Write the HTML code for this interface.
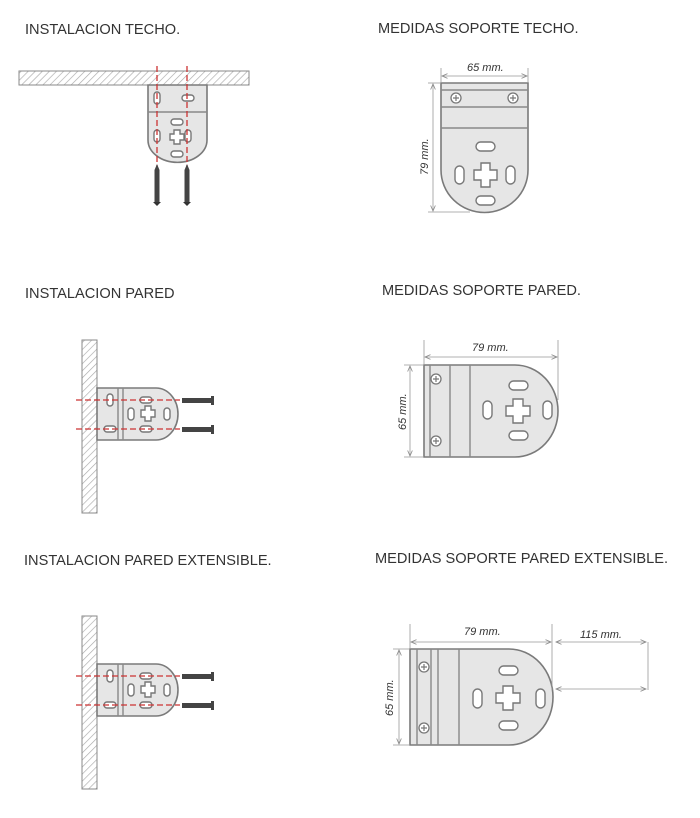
<!DOCTYPE html>
<html><head><meta charset="utf-8"><style>
html,body{margin:0;padding:0;background:#fff}
svg{display:block}
text{font-family:"Liberation Sans",sans-serif}
.t{font-size:14.6px;fill:#333}
.d{font-size:11px;fill:#333;font-style:italic}
.b{fill:#e6e6e6;stroke:#7a7a7a;stroke-width:1.6}
.h{fill:#fff;stroke:#777;stroke-width:1.4}
.l{stroke:#888;stroke-width:1.4;fill:none}
.dm{stroke:#999;stroke-width:0.8;fill:none}
.r{stroke:#c33;stroke-width:1.3;stroke-dasharray:6 3;fill:none}
</style></head><body>
<svg width="700" height="818" viewBox="0 0 700 818">
<defs>
<pattern id="hp" width="5" height="5" patternUnits="userSpaceOnUse" patternTransform="rotate(45)">
<rect width="5" height="5" fill="#fff"/><line x1="0" y1="0" x2="0" y2="5" stroke="#aaa" stroke-width="1.3"/>
</pattern>
<marker id="a" markerWidth="8" markerHeight="8" refX="7" refY="4" orient="auto-start-reverse"><path d="M0,1 L7,4 L0,7" fill="none" stroke="#888" stroke-width="1"/></marker>
<g id="scr"><circle r="5" fill="#fff" stroke="#777" stroke-width="1.3"/><path d="M-3,0H3M0,-3V3" stroke="#777" stroke-width="1.2"/></g>
<g id="screwV"><rect x="-2.5" y="0" width="5" height="32" fill="#444"/><path d="M-4,32H4L0,36Z" fill="#333"/><path d="M-2.5,0L0,-6L2.5,0" fill="#444"/></g>
</defs>

<text class="t" x="25" y="34">INSTALACION TECHO.</text>
<text class="t" x="378" y="33">MEDIDAS SOPORTE TECHO.</text>
<text class="t" x="25" y="298">INSTALACION PARED</text>
<text class="t" x="382" y="295">MEDIDAS SOPORTE PARED.</text>
<text class="t" x="24" y="565">INSTALACION PARED EXTENSIBLE.</text>
<text class="t" x="375" y="563">MEDIDAS SOPORTE PARED EXTENSIBLE.</text>

<!-- Instalacion techo -->
<rect x="19" y="71" width="230" height="14" fill="url(#hp)" stroke="#888"/>
<path class="b" d="M148,85H207V140A29,22 0 0 1 148,140Z"/>
<line class="l" x1="148" y1="112" x2="207" y2="112"/>
<rect class="h" x="154" y="92" width="6" height="12" rx="3"/>
<rect class="h" x="182" y="95" width="12" height="6" rx="3"/>
<rect class="h" x="171" y="119" width="12" height="6" rx="3"/>
<rect class="h" x="171" y="151" width="12" height="6" rx="3"/>
<rect class="h" x="154" y="130" width="6" height="12" rx="3"/>
<rect class="h" x="185" y="130" width="6" height="12" rx="3"/>
<path class="h" d="M174,130h6v4h4v6h-4v4h-6v-4h-4v-6h4z"/>
<line class="r" x1="157" y1="66" x2="157" y2="166"/>
<line class="r" x1="187" y1="66" x2="187" y2="166"/>
<use href="#screwV" x="157" y="170"/>
<use href="#screwV" x="187" y="170"/>

<!-- Medidas techo -->
<path class="b" d="M441,83H528V170A43,42 0 0 1 441,170Z"/>
<line class="l" x1="441" y1="90" x2="528" y2="90"/>
<line class="l" x1="441" y1="107" x2="528" y2="107"/>
<line class="l" x1="441" y1="128" x2="528" y2="128"/>
<use href="#scr" x="456" y="98"/><use href="#scr" x="513" y="98"/>
<rect class="h" x="476" y="142" width="19" height="9" rx="4.5"/>
<rect class="h" x="476" y="196" width="19" height="9" rx="4.5"/>
<rect class="h" x="455" y="166" width="9" height="18" rx="4.5"/>
<rect class="h" x="506" y="166" width="9" height="18" rx="4.5"/>
<path class="h" d="M481,163h9v7h7v10h-7v7h-9v-7h-7v-10h7z"/>
<line class="dm" x1="441" y1="68" x2="441" y2="83"/><line class="dm" x1="528" y1="68" x2="528" y2="83"/>
<line class="dm" x1="442" y1="76" x2="527" y2="76" marker-start="url(#a)" marker-end="url(#a)"/>
<text class="d" x="467" y="71">65 mm.</text>
<line class="dm" x1="428" y1="83" x2="441" y2="83"/><line class="dm" x1="428" y1="212" x2="470" y2="212"/>
<line class="dm" x1="433" y1="84" x2="433" y2="211" marker-start="url(#a)" marker-end="url(#a)"/>
<text class="d" transform="translate(428,175) rotate(-90)">79 mm.</text>

<!-- Instalacion pared -->
<g id="pared">
<rect x="82" y="340" width="15" height="173" fill="url(#hp)" stroke="#888"/>
<path class="b" d="M97,388H156A22,26 0 0 1 156,440H97Z"/>
<line class="l" x1="118" y1="388" x2="118" y2="440"/>
<line class="l" x1="123" y1="388" x2="123" y2="440"/>
<rect class="h" x="107" y="394" width="6" height="12" rx="3"/>
<rect class="h" x="104" y="426" width="12" height="6" rx="3"/>
<rect class="h" x="140" y="397" width="12" height="6" rx="3"/>
<rect class="h" x="140" y="426" width="12" height="6" rx="3"/>
<rect class="h" x="128" y="408" width="6" height="12" rx="3"/>
<rect class="h" x="164" y="408" width="6" height="12" rx="3"/>
<path class="h" d="M145,406h6v4h4v7h-4v4h-6v-4h-4v-7h4z"/>
<line class="r" x1="76" y1="400" x2="180" y2="400"/>
<line class="r" x1="76" y1="429" x2="180" y2="429"/>
<g fill="#444"><rect x="182" y="398" width="30" height="5"/><rect x="211" y="396" width="3" height="9"/>
<rect x="182" y="427" width="30" height="5"/><rect x="211" y="425" width="3" height="9"/></g>
</g>
<use href="#pared" y="276"/>

<!-- Medidas pared -->
<path class="b" d="M424,365H515A43,46 0 0 1 515,457H424Z"/>
<line class="l" x1="430" y1="365" x2="430" y2="457"/>
<line class="l" x1="450" y1="365" x2="450" y2="457"/>
<line class="l" x1="470" y1="365" x2="470" y2="457"/>
<use href="#scr" x="436" y="379"/><use href="#scr" x="436" y="441"/>
<rect class="h" x="483" y="401" width="9" height="18" rx="4.5"/>
<rect class="h" x="543" y="401" width="9" height="18" rx="4.5"/>
<rect class="h" x="509" y="381" width="19" height="9" rx="4.5"/>
<rect class="h" x="509" y="431" width="19" height="9" rx="4.5"/>
<path class="h" d="M513,399h10v7h7v10h-7v7h-10v-7h-7v-10h7z"/>
<line class="dm" x1="424" y1="340" x2="424" y2="365"/><line class="dm" x1="558" y1="340" x2="558" y2="400"/>
<line class="dm" x1="425" y1="357" x2="557" y2="357" marker-start="url(#a)" marker-end="url(#a)"/>
<text class="d" x="472" y="351">79 mm.</text>
<line class="dm" x1="404" y1="365" x2="424" y2="365"/><line class="dm" x1="404" y1="457" x2="424" y2="457"/>
<line class="dm" x1="410" y1="366" x2="410" y2="456" marker-start="url(#a)" marker-end="url(#a)"/>
<text class="d" transform="translate(406,430) rotate(-90)">65 mm.</text>

<!-- Medidas extensible -->
<path class="b" d="M410,649H509A44,48 0 0 1 509,745H410Z"/>
<line class="l" x1="417" y1="649" x2="417" y2="745"/>
<line class="l" x1="431" y1="649" x2="431" y2="745"/>
<line class="l" x1="438" y1="649" x2="438" y2="745"/>
<line class="l" x1="459" y1="649" x2="459" y2="745"/>
<use href="#scr" x="424" y="667"/><use href="#scr" x="424" y="728"/>
<rect class="h" x="473" y="689" width="9" height="19" rx="4.5"/>
<rect class="h" x="536" y="689" width="9" height="19" rx="4.5"/>
<rect class="h" x="499" y="666" width="19" height="9" rx="4.5"/>
<rect class="h" x="499" y="721" width="19" height="9" rx="4.5"/>
<path class="h" d="M503,686h10v7h7v10h-7v7h-10v-7h-7v-10h7z"/>
<line class="dm" x1="410" y1="624" x2="410" y2="649"/><line class="dm" x1="552" y1="624" x2="552" y2="690"/>
<line class="dm" x1="411" y1="642" x2="551" y2="642" marker-start="url(#a)" marker-end="url(#a)"/>
<text class="d" x="464" y="635">79 mm.</text>
<line class="dm" x1="556" y1="642" x2="646" y2="642" marker-start="url(#a)" marker-end="url(#a)"/>
<line class="dm" x1="556" y1="689" x2="646" y2="689" marker-start="url(#a)" marker-end="url(#a)"/>
<line class="dm" x1="648" y1="642" x2="648" y2="690"/>
<text class="d" x="580" y="638">115 mm.</text>
<line class="dm" x1="393" y1="649" x2="410" y2="649"/><line class="dm" x1="393" y1="745" x2="410" y2="745"/>
<line class="dm" x1="399" y1="650" x2="399" y2="744" marker-start="url(#a)" marker-end="url(#a)"/>
<text class="d" transform="translate(393,716) rotate(-90)">65 mm.</text>
</svg>
</body></html>
